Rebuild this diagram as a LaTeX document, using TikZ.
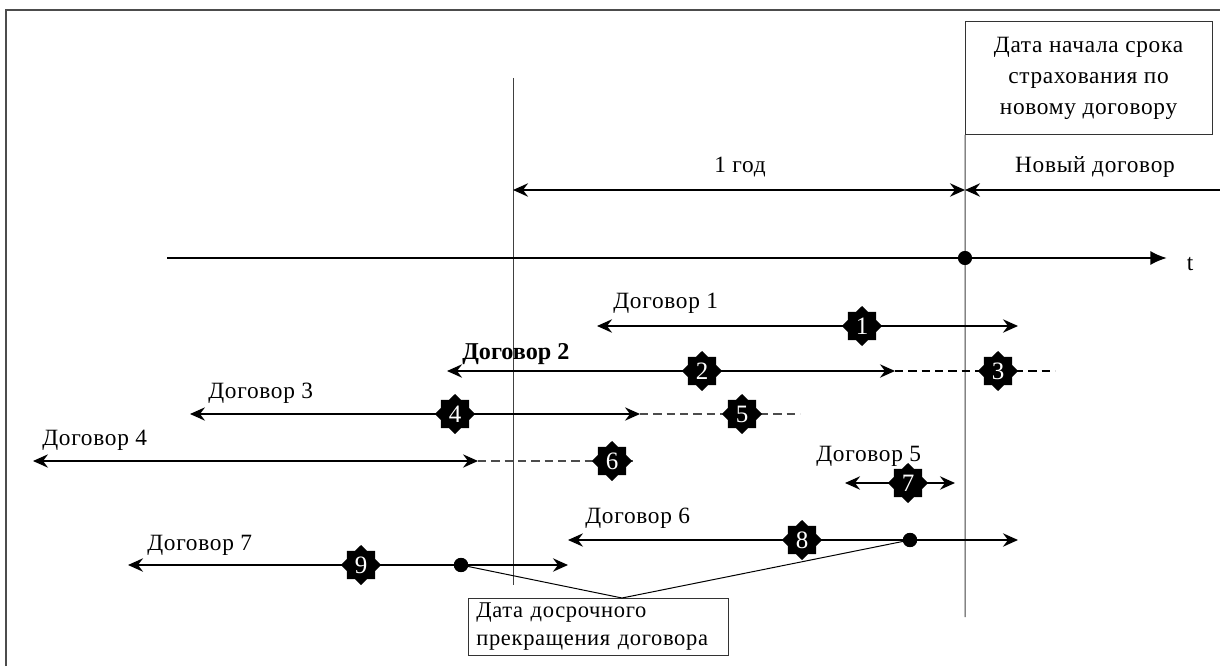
\documentclass[tikz,border=0pt]{standalone}
\usepackage{fontspec}
\setmainfont{Liberation Serif}
\usetikzlibrary{arrows.meta,shapes.geometric}
\begin{document}
\begin{tikzpicture}[x=0.6pt,y=-0.6pt,
  font=\fontsize{14}{18.6}\selectfont\addfontfeature{LetterSpace=3},
  >={Stealth[length=9pt,width=8pt,inset=3pt]},
  frame/.style={draw=black!70,line width=0.7pt},
  vline/.style={draw=black!75,line width=0.6pt},
  span/.style={line width=1.3pt},
  thin span/.style={line width=0.9pt},
  dash line/.style={line width=1.3pt,dash pattern=on 5pt off 3pt},
  gray dash/.style={draw=black!70,line width=0.8pt,dash pattern=on 5pt off 3pt},
  badge/.style={star,star points=8,star point ratio=1.3,fill=black,text=white,
    inner sep=0pt,minimum size=24pt,font=\fontsize{15}{15}\selectfont},
  dot/.style={circle,fill=black,inner sep=0pt,minimum size=8.5pt},
  lbl/.style={anchor=west,inner sep=0pt},
  infobox/.style={draw=black!80,line width=0.6pt,inner sep=0pt,outer sep=0pt}
]
\useasboundingbox (0,0) rectangle (1220,666);
% outer frame
\draw[frame] (6,666) -- (6,10) -- (1220,10);

% top-right box and vertical lines
\node[infobox,minimum width=148.2pt,minimum height=67.8pt,align=center]
  (startbox) at (1088.5,78.5) {Дата начала срока\\страхования по\\новому договору};
\coordinate (v1top) at (513,78);
\coordinate (v1bot) at (513,585);
\coordinate (v2bot) at (965,617);
\draw[vline] (v1top) -- (v1bot);
\draw[vline] (startbox.south west) -- (v2bot);

% 1 year and new contract
\coordinate (yl) at (513,190);
\coordinate (yr) at (965,190);
\coordinate (nr) at (1220,190);
\draw[span,<->] (yl) -- (yr);
\draw[span,->] (nr) -- (yr);
\node (yearlbl) at (740,167) {1 год};
\node (newlbl) at (1095,167) {Новый договор};

% time axis
\coordinate (t0) at (167,258);
\coordinate (t1) at (1167,258);
\draw[line width=1.3pt,-{Latex[length=10pt,width=8.5pt]}] (t0) -- (t1);
\node[dot] (tdot) at (965,258) {};
\node (tlbl) at (1190,264) {t};

% contract 1
\coordinate (c1l) at (597,326);
\coordinate (c1r) at (1018,326);
\draw[span,<->] (c1l) -- (c1r);
\node[lbl] (c1lbl) at (613,303) {Договор 1};
\node[badge] (b1) at (862,326) {1};

% contract 2
\coordinate (c2l) at (447,371);
\coordinate (c2m) at (895,371);
\coordinate (c2r) at (1055,371);
\draw[span,<->] (c2l) -- (c2m);
\draw[dash line] (c2m) -- (c2r);
\node[lbl,font=\fontsize{14.5}{18}\bfseries] (c2lbl) at (462,354) {Договор 2};
\node[badge] (b2) at (702,371) {2};
\node[badge] (b3) at (998,371) {3};

% contract 3
\coordinate (c3l) at (190,414);
\coordinate (c3m) at (640,414);
\coordinate (c3r) at (800,414);
\draw[thin span,<->] (c3l) -- (c3m);
\draw[gray dash] (c3m) -- (c3r);
\node[lbl] (c3lbl) at (208,393) {Договор 3};
\node[badge] (b4) at (455,414) {4};
\node[badge] (b5) at (742,414) {5};

% contract 4
\coordinate (c4l) at (33,461);
\coordinate (c4m) at (478,461);
\coordinate (c4r) at (635,461);
\draw[thin span,<->] (c4l) -- (c4m);
\draw[gray dash] (c4m) -- (c4r);
\node[lbl] (c4lbl) at (42,440) {Договор 4};
\node[badge] (b6) at (612,461) {6};

% contract 5
\coordinate (c5l) at (845,483);
\coordinate (c5r) at (955,483);
\draw[span,<->] (c5l) -- (c5r);
\node[lbl] (c5lbl) at (816,456) {Договор 5};
\node[badge] (b7) at (908,483) {7};

% contract 6
\coordinate (c6l) at (568,540);
\coordinate (c6r) at (1018,540);
\node[dot] (d6) at (910,540) {};
\draw[thin span,<-] (c6l) -- (d6);
\draw[span,->] (d6) -- (c6r);
\node[lbl] (c6lbl) at (585,518) {Договор 6};
\node[badge] (b8) at (802,540) {8};

% contract 7
\coordinate (c7l) at (128,565);
\coordinate (c7r) at (568,565);
\node[dot] (d7) at (461,565) {};
\draw[span,<-] (c7l) -- (d7);
\draw[span,->] (d7) -- (c7r);
\node[lbl] (c7lbl) at (147,545) {Договор 7};
\node[badge] (b9) at (361,565) {9};

% callout
\node[infobox,minimum width=156pt,minimum height=34.2pt,text width=146pt,align=left,
  font=\fontsize{13.5}{16.5}\selectfont\addfontfeature{LetterSpace=3}]
  (endbox) at (598,626.5) {Дата досрочного\\прекращения договора};
\coordinate (apex) at (622,598);
\draw[line width=0.6pt] (d7.center) -- (apex) -- (d6.center);
\node[dot] at (d7) {};
\node[dot] at (d6) {};
\end{tikzpicture}
\end{document}
